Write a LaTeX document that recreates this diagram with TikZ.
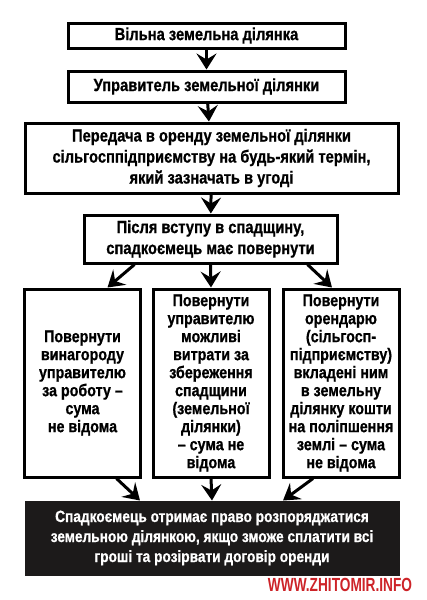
\documentclass[tikz,border=0pt]{standalone}
\usepackage{fontspec}
\setmainfont{Liberation Sans}[FakeStretch=0.84, BoldFeatures={FakeBold=0.8}]
\newfontfamily\wmfont{Liberation Sans}[FakeStretch=0.72]
\usepackage{tikz}
\usetikzlibrary{arrows.meta}

\definecolor{wmred}{RGB}{205,35,40}
\definecolor{boxblack}{RGB}{28,26,26}

\tikzset{
	box/.style={draw, line width=3pt, align=center, inner sep=0pt,
		font=\bfseries\fontsize{17.5}{21}\selectfont},
	colbox/.style={box, minimum width=116pt, minimum height=188pt,
		font=\bfseries\fontsize{17}{18}\selectfont},
	arr/.style={line width=3pt, -{Stealth[length=16pt,width=20pt,inset=6pt]}}
}

\begin{document}
\begin{tikzpicture}[x=1pt,y=1pt]
			\useasboundingbox[fill=white] (0,0) rectangle (426,-600);
			
			% draw upper boxes
			\node[box, minimum width=277pt, minimum height=25pt] (free) at (206.5,-35.5) {Вільна земельна ділянка};
			\node[box, minimum width=277pt, minimum height=31pt] (manager) at (206.5,-86.5) {Управитель земельної ділянки};
			\node[box, minimum width=373pt, minimum height=70pt] (lease) at (211.5,-158) {Передача в оренду земельної ділянки\\сільгосппідприємству на будь-який термін,\\який зазначать в угоді};
			\node[box, minimum width=253pt, minimum height=48pt] (heir) at (210.5,-239) {Після вступу в спадщину,\\спадкоємець має повернути};
			
			% draw column boxes
			\node[colbox] (payL) at (82.5,-383) {Повернути\\винагороду\\управителю\\за роботу –\\сума\\не відома};
			\node[colbox] (payM) at (211,-383) {Повернути\\управителю\\можливі\\витрати за\\збереження\\спадщини\\(земельної\\ділянки)\\– сума не\\відома};
			\node[colbox] (payR) at (341,-383) {Повернути\\орендарю\\(сільгосп-\\підприємству)\\вкладені ним\\в земельну\\ділянку кошти\\на поліпшення\\землі – сума\\не відома};
			
			% draw result box
			\node[box, draw=boxblack, fill=boxblack, text=white, minimum width=372pt, minimum height=72pt,
				font=\bfseries\fontsize{16.3}{20}\selectfont] (right) at (212,-538) {Спадкоємець отримає право розпоряджатися\\земельною ділянкою, якщо зможе сплатити всі\\гроші та розірвати договір оренди};
			
			% draw arrows
			\draw[arr] (free) -- (manager);
			\draw[arr] (manager) -- (lease);
			\draw[arr] (lease) -- (heir);
			\draw[arr] ([xshift=-76pt]heir.south) -- ([xshift=25pt]payL.north);
			\draw[arr] (heir.south) -- (payM.north);
			\draw[arr] ([xshift=97pt]heir.south) -- ([xshift=-9pt]payR.north);
			\draw[arr] ([xshift=34pt]payL.south) -- ([xshift=-72pt]right.north);
			\draw[arr] (payM.south) -- (right.north);
			\draw[arr] ([xshift=-28pt]payR.south) -- ([xshift=71pt]right.north);
			
			% draw site name
			\node[text=wmred, font=\wmfont\bfseries\fontsize{19}{19}\selectfont, inner sep=0pt] (site) at (340,-585) {WWW.ZHITOMIR.INFO};
\end{tikzpicture}
\end{document}
